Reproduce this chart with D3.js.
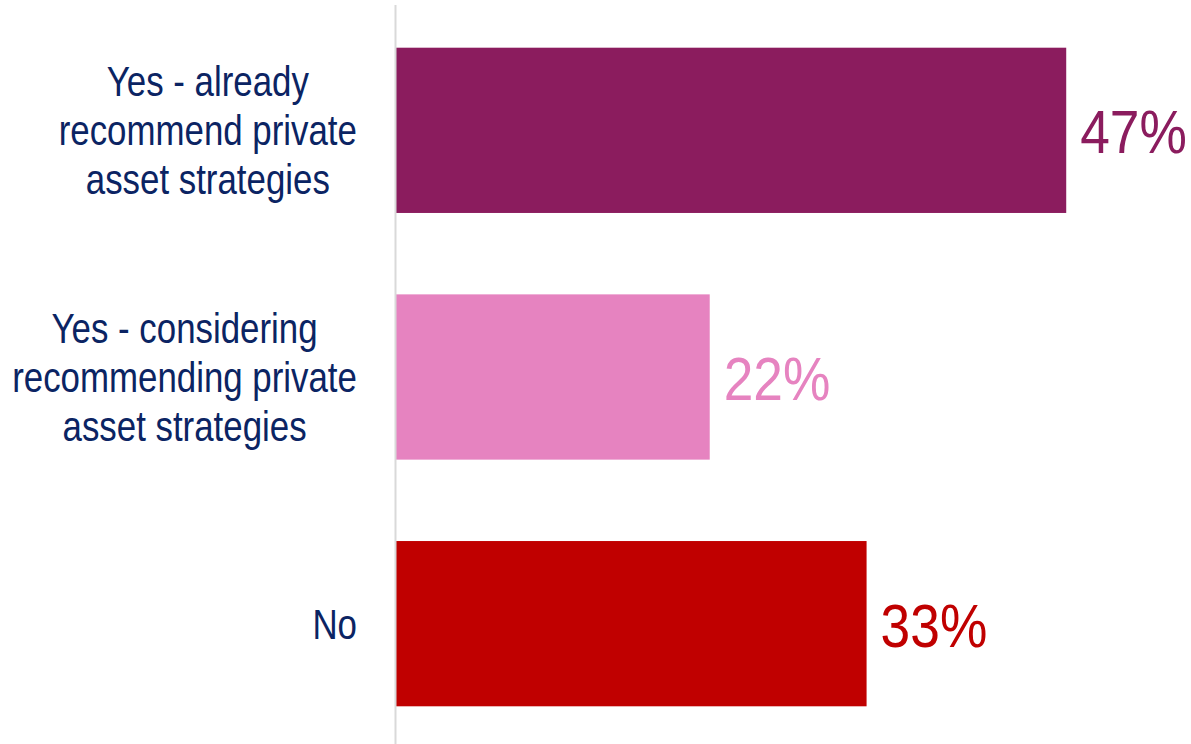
<!DOCTYPE html>
<html><head><meta charset="utf-8">
<script src="https://cdn.jsdelivr.net/npm/d3@7"></script>
<style>
html,body{margin:0;padding:0;background:#fff;}
svg{display:block;}
text{font-family:"Liberation Sans",Arial,sans-serif;}
</style></head>
<body>
<svg id="c" width="1191" height="744"></svg>
<script>
const categories = [
  ["Yes - already", "recommend private", "asset strategies"],
  ["Yes - considering", "recommending private", "asset strategies"],
  ["No"]
];
const values = [47, 22, 33];
const colors = ["#8B1C5E", "#E683C0", "#C00000"];
const labelColor = "#0B2463";

const sx = 0.83;  // condensed (Arial Narrow-like) horizontal scale for labels
const sxv = 0.86; // horizontal scale for value labels
const svg = d3.select("#c");
const x = d3.scaleLinear().domain([0, 50]).range([396, 396 + 50 * 14.26]);
const y = d3.scaleBand().domain(d3.range(categories.length)).range([7, 747]).paddingInner(0.33).paddingOuter(0.165);

svg.selectAll("rect.bar").data(values).join("rect")
  .attr("class", "bar")
  .attr("x", x(0))
  .attr("y", (d, i) => y(i))
  .attr("width", d => x(d) - x(0))
  .attr("height", y.bandwidth())
  .attr("fill", (d, i) => colors[i]);

svg.append("line")
  .attr("x1", x(0) - 0.5).attr("x2", x(0) - 0.5)
  .attr("y1", 5).attr("y2", 744)
  .attr("stroke", "#d9d9d9").attr("stroke-width", 2);

svg.selectAll("g.val").data(values).join("g")
  .attr("class", "val")
  .attr("transform", (d, i) => `translate(${x(d) + 14},${y(i) + y.bandwidth() / 2}) scale(${sxv},1)`)
  .append("text")
  .attr("dy", "0.37em")
  .attr("fill", (d, i) => colors[i])
  .style("font-size", "62px")
  .text(d => d + "%");

const rightEdge = 357, fs = 42, lh = 49;
categories.forEach((lines, i) => {
  const g = svg.append("g");
  const cy = y(i) + y.bandwidth() / 2;
  const t = g.selectAll("text").data(lines).join("text")
    .attr("y", (d, k) => cy + (k - (lines.length - 1) / 2) * lh)
    .attr("dy", "0.36em")
    .attr("text-anchor", "middle")
    .attr("fill", labelColor)
    .style("font-size", fs + "px")
    .text(d => d);
  let maxW = 0;
  t.each(function(){ maxW = Math.max(maxW, this.getComputedTextLength()); });
  g.attr("transform", `translate(${rightEdge - maxW * sx / 2},0) scale(${sx},1)`);
});
</script>
</body></html>
